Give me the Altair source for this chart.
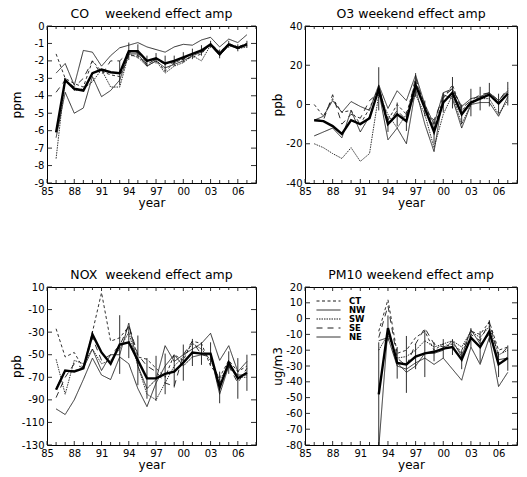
import altair as alt
import pandas as pd

years = list(range(1986, 2008))
pm_years = list(range(1993, 2008))
sites = ["CT", "NW", "SW", "SE", "NE"]
dash_range = [[3, 2.5], [1, 0], [1.5, 1], [6, 5], [1, 0]]

# ---- CO (ppm) ----
co_ct = [-1.6, -3.0, -3.3, -3.5, -2.0, -2.6, -2.8, -2.9, -1.7, -1.7, -2.2, -1.9, -2.6, -2.1, -1.9, -1.8, -1.6, -1.0, -1.5, -1.0, -1.2, -1.0]
co_nw = [-2.7, -2.15, -3.4, -1.4, -1.5, -2.3, -1.7, -1.25, -1.1, -0.95, -1.2, -1.35, -1.5, -1.2, -1.05, -1.1, -0.8, -0.65, -1.2, -0.75, -0.95, -0.5]
co_sw = [-7.6, -3.0, -3.7, -3.6, -3.2, -2.5, -3.5, -3.5, -1.6, -1.8, -2.3, -2.0, -2.7, -2.3, -2.1, -1.7, -2.0, -1.1, -1.7, -1.1, -1.3, -1.2]
co_se = [-3.8, -3.1, -3.5, -3.0, -2.0, -2.8, -2.0, -2.0, -1.5, -1.5, -2.2, -1.9, -2.2, -2.1, -1.9, -1.6, -1.5, -1.1, -1.6, -1.1, -1.3, -1.0]
co_ne = [-6.4, -3.8, -5.0, -4.7, -2.9, -4.05, -3.7, -3.1, -1.6, -1.6, -2.3, -2.0, -2.4, -2.2, -2.0, -1.7, -1.5, -1.1, -1.7, -1.1, -1.3, -1.1]
co_mean = [-6.1, -3.1, -3.6, -3.7, -2.7, -2.5, -2.65, -2.7, -1.45, -1.45, -2.0, -1.85, -2.15, -2.0, -1.8, -1.6, -1.4, -1.05, -1.6, -1.05, -1.25, -1.05]
co_err = [0, 0, 0, 0, 0, 0, 0, 0.7, 0.5, 0.4, 0.3, 0.3, 0.45, 0.3, 0.3, 0.3, 0.3, 0.2, 0.25, 0.2, 0.2, 0.2]

# ---- O3 (ppb) ----
o3_ct = [0, -6, 3, -4, -3, -10, -2, 9, -8, 0, -5, 12, 0, -12, 3, 10, -3, 1, 4, 5, 1, 6]
o3_nw = [-8, -6, 2, -4, 1.5, -1, -3, 10, -2, 7, 2, 15, 0, -10, 6, 8, -1, 3, 4, 6, 2, 7]
o3_sw = [-20, -22, -25, -27.5, -22, -29, -25, 5, -5, -12, -5, 5, -5, -22, -5, 5, -10, 0, 3, 3, -5, 2]
o3_se = [-8, -8, 5, -10, -5, -7, 2, 6, -10, -3, -8, 14, -3, -8, 4, 8, -2, 2, 5, 6, 2, 8]
o3_ne = [-16, -14, -12, -17, -3, -14, -6, 7, -18, -12, -20, 8, -10, -24, 5, 3, -12, 0, 1, 1, -6, 4]
o3_mean = [-8, -8.5, -11, -15, -8, -10, -7, 8, -10, -5, -8.5, 10, -2, -14, 1, 6, -5, 1, 3, 5, 0.5, 5.5]
o3_err = [0, 0, 0, 0, 0, 0, 0, 11, 4, 6, 5, 6, 4, 6, 5, 8, 5, 7, 6, 6, 5, 6]

# ---- NOX (ppb) ----
nox_ct = [-27, -52, -48, -62, -30, 5, -38, -35, -25, -52, -54, -62, -70, -50, -55, -38, -40, -60, -70, -55, -65, -60]
nox_nw = [-80, -64, -64, -62, -45, -64, -50, -50, -22, -60, -80, -72, -42, -56, -50, -45, -40, -31, -55, -42, -65, -56]
nox_sw = [-54, -85, -55, -58, -45, -58, -55, -45, -30, -60, -85, -90, -75, -60, -52, -40, -45, -55, -72, -60, -70, -70]
nox_se = [-88, -70, -58, -62, -35, -55, -50, -42, -24, -50, -60, -65, -75, -78, -50, -38, -50, -52, -75, -60, -75, -62]
nox_ne = [-98, -103, -90, -72, -53, -68, -72, -52, -58, -80, -96, -75, -60, -50, -60, -52, -50, -50, -85, -60, -68, -68]
nox_mean = [-81, -64, -65, -62, -32, -48, -58, -41, -39, -55, -71, -71, -67, -65, -57, -48, -49, -49, -79, -57, -71, -66]
nox_err = [0, 0, 0, 0, 3, 0, 0, 26, 14, 22, 18, 20, 18, 14, 16, 12, 10, 10, 14, 10, 18, 16]

# ---- PM10 (ug/m3), from 1993 ----
pm_ct = [-8, 12, -22, -20, -12, -8, -20, -16, -18, -20, -8, -10, -2, -20, -18]
pm_nw = [-14, -12, -30, -32, -28, -25, -29, -25, -32, -39, -18, -29, -12, -43, -34]
pm_sw = [-20, -10, -25, -24, -20, -14, -18, -16, -14, -18, -8, -12, -5, -23, -20]
pm_se = [-12, 8, -25, -30, -16, -6, -16, -18, -16, -22, -10, -14, -2, -24, -18]
pm_ne = [-82, -6, -28, -34, -30, -22, -22, -20, -14, -24, -7, -16, -10, -26, -25]
pm_mean = [-48, -6, -28, -29, -24, -22, -21, -19, -18, -26, -12, -18, -8, -29, -25]
pm_err = [33, 8, 10, 18, 8, 15, 6, 6, 5, 6, 6, 10, 7, 8, 8]

FONT = "DejaVu Sans"
INK = "#1a1a1a"


def site_frame(yrs, series):
    rows = []
    for name, vals in zip(sites, series):
        for y, v in zip(yrs, vals):
            rows.append({"year": y, "value": v, "site": name})
    return pd.DataFrame(rows)


def mean_frame(yrs, mean, err):
    return pd.DataFrame({
        "year": yrs,
        "mean": mean,
        "lo": [m - e for m, e in zip(mean, err)],
        "hi": [m + e for m, e in zip(mean, err)],
        "err": err,
    })


def panel(title, ytitle, ydomain, yticks, yrs, series, mean, err, W, H, title_x, legend=None):
    xscale = alt.Scale(domain=[1985, 2008], nice=False, zero=False)
    yscale = alt.Scale(domain=ydomain, nice=False, zero=False)
    xaxis = alt.Axis(values=list(range(1985, 2008, 3)), labelExpr="slice(toString(datum.value), 2)",
                     ticks=False, grid=False, domain=False, title="year", labelPadding=3,
                     titlePadding=1, labelFlush=False)
    yaxis = alt.Axis(values=yticks, ticks=False, grid=False, domain=False, title=ytitle,
                     labelPadding=3, titleX=title_x, labelExpr="toString(datum.value)")
    X = lambda f: alt.X(f, scale=xscale, axis=xaxis)
    Y = lambda f: alt.Y(f, scale=yscale, axis=yaxis)

    sdf = site_frame(yrs, series)
    mdf = mean_frame(yrs, mean, err)
    mdf_err = mdf[mdf["err"] > 0]

    lines = alt.Chart(sdf).mark_line(strokeWidth=0.9, color=INK, clip=True).encode(
        x=X("year:Q"),
        y=Y("value:Q"),
        strokeDash=alt.StrokeDash("site:N", scale=alt.Scale(domain=sites, range=dash_range),
                                  sort=sites, legend=legend),
        detail="site:N",
    )
    bars = alt.Chart(mdf_err).mark_rule(strokeWidth=0.9, color=INK, clip=True).encode(
        x=X("year:Q"), y=Y("lo:Q"), y2="hi:Q",
    )
    avg = alt.Chart(mdf).mark_line(strokeWidth=2.4, color="black", clip=True).encode(
        x=X("year:Q"), y=Y("mean:Q"),
    )

    # inward tick marks on all four sides of the box
    ydf = pd.DataFrame({"v": yticks})
    xmaj = pd.DataFrame({"v": list(range(1985, 2009, 3))})
    xmin = pd.DataFrame({"v": [y for y in range(1985, 2009) if (y - 1985) % 3]})
    tk = dict(strokeWidth=0.9, color=INK)
    ylt = alt.Chart(ydf).mark_rule(**tk).encode(y=Y("v:Q"), x=alt.value(0), x2=alt.value(5))
    yrt = alt.Chart(ydf).mark_rule(**tk).encode(y=Y("v:Q"), x=alt.value(W - 5), x2=alt.value(W))
    xbm = alt.Chart(xmaj).mark_rule(**tk).encode(x=X("v:Q"), y=alt.value(H - 4), y2=alt.value(H))
    xtm = alt.Chart(xmaj).mark_rule(**tk).encode(x=X("v:Q"), y=alt.value(0), y2=alt.value(4))
    xbn = alt.Chart(xmin).mark_rule(**tk).encode(x=X("v:Q"), y=alt.value(H - 3), y2=alt.value(H))
    xtn = alt.Chart(xmin).mark_rule(**tk).encode(x=X("v:Q"), y=alt.value(0), y2=alt.value(3))

    return alt.layer(lines, bars, avg, ylt, yrt, xbm, xtm, xbn, xtn).properties(
        width=W, height=H,
        title=alt.TitleParams(title, fontSize=12.5, font=FONT, fontWeight="normal", offset=1),
    )


NB = "\u00a0"
p_co = panel("CO" + NB * 4 + "weekend effect amp", "ppm", [-9, 0], list(range(-9, 1)),
             years, [co_ct, co_nw, co_sw, co_se, co_ne], co_mean, co_err, 209, 157, -24)
p_o3 = panel("O3 weekend effect amp", "ppb", [-40, 40], [-40, -20, 0, 20, 40],
             years, [o3_ct, o3_nw, o3_sw, o3_se, o3_ne], o3_mean, o3_err, 212, 157, -21)
p_nox = panel("NOX" + NB * 2 + "weekend effect amp", "ppb", [-130, 10], list(range(-130, 11, 20)),
              years, [nox_ct, nox_nw, nox_sw, nox_se, nox_ne], nox_mean, nox_err, 209, 158, -24)
p_pm = panel("PM10 weekend effect amp", "ug/m3", [-80, 20], list(range(-80, 21, 10)),
             pm_years, [pm_ct, pm_nw, pm_sw, pm_se, pm_ne], pm_mean, pm_err, 212, 158, -21,
             legend=alt.Legend(orient="none", legendX=11, legendY=11, title=None,
                               symbolType="stroke", symbolSize=576, symbolStrokeWidth=1,
                               symbolStrokeColor=INK, labelFontSize=8.5, labelFont=FONT,
                               labelFontWeight="bold", rowPadding=0, labelOffset=8,
                               padding=0, clipHeight=6))

top = alt.hconcat(p_co, p_o3, spacing=13).resolve_scale(strokeDash="independent").resolve_legend(strokeDash="independent")
bottom = alt.hconcat(p_nox, p_pm, spacing=13).resolve_scale(strokeDash="independent").resolve_legend(strokeDash="independent")

chart = alt.vconcat(top, bottom, spacing=59).resolve_scale(strokeDash="independent").resolve_legend(
    strokeDash="independent"
).properties(
    padding={"left": 9, "top": 7, "right": 2, "bottom": 2},
    background="white",
).configure_view(
    stroke="black", strokeWidth=1
).configure_axis(
    labelFont=FONT, labelFontSize=10, labelColor="black",
    titleFont=FONT, titleFontSize=12, titleFontWeight="normal", titleColor="black",
)

chart.save("out.html", embed_options={"renderer": "svg", "actions": False})
